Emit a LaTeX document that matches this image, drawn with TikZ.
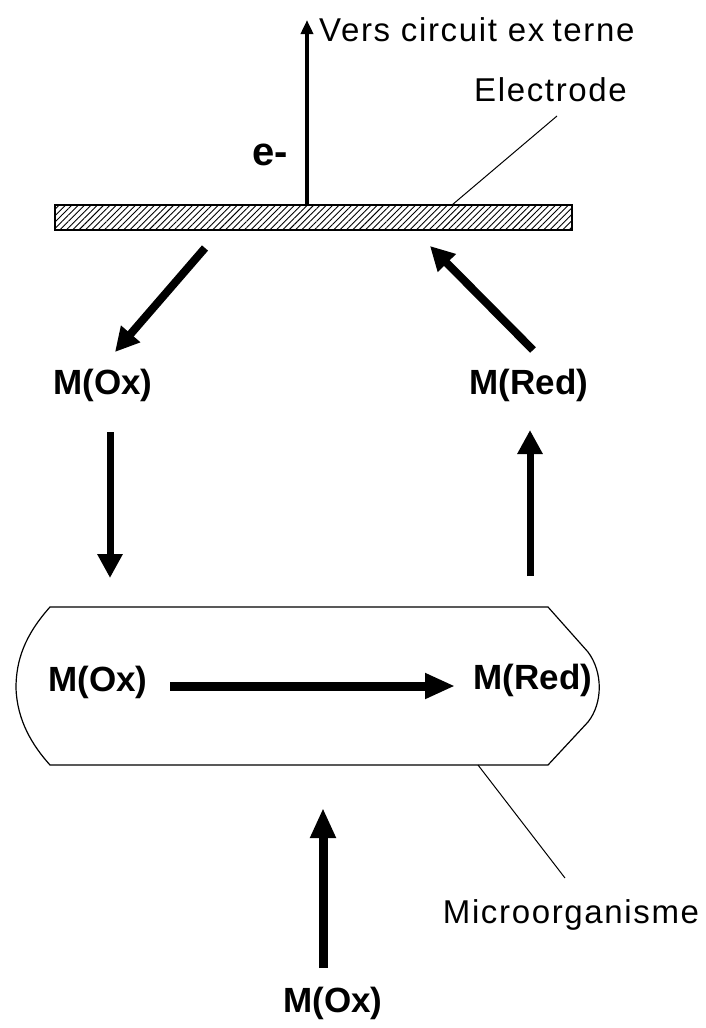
\documentclass[tikz,border=0pt]{standalone}
\usepackage{fontspec}
\setmainfont{Liberation Sans}
\newfontfamily\lightfont[LetterSpace=5]{Liberation Sans}
\usetikzlibrary{arrows.meta,patterns.meta}
\begin{document}
\begin{tikzpicture}[x=1pt,y=-1pt,
  lbl/.style={font=\fontsize{35}{40}\selectfont\bfseries, inner sep=0pt},
  note/.style={font=\fontsize{33}{38}\lightfont, inner sep=0pt},
  leader/.style={line width=1pt},
  fatarrow/.style={line width=8pt, -{Triangle[length=24pt,width=24pt]}},
  bigarrow/.style={line width=9pt, -{Triangle[length=30pt,width=24pt]}},
  slimarrow/.style={line width=4.5pt, -{Triangle[length=14pt,width=12pt]}}]
\useasboundingbox (0,0) rectangle (705,1028);

% electrode
\node[draw, line width=1.3pt, minimum width=517pt, minimum height=25pt,
  pattern={Lines[angle=45,distance=4.5pt,line width=0.9pt]}] (electrode) at (313.5,217.5) {};

\coordinate (ext) at (307,20);
\draw[slimarrow] (ext |- electrode.north) -- (ext);
\node[note, anchor=west] (vers) at (319,30) {Vers circuit ex\hspace{0.25em}terne};
\node[lbl, font=\fontsize{40}{44}\selectfont\bfseries] (eminus) at (270,155) {e-};

\node[note, anchor=west] (electrodelbl) at (474,90) {Electrode};
\coordinate (elA) at (557,116);
\coordinate (elB) at (452,205);
\draw[leader] (elA) -- (elB);

% upper labels
\node[lbl] (ox1) at (103,385) {M(Ox)};
\node[lbl] (red1) at (529,385) {M(Red)};

\coordinate (a1s) at (205,248);
\coordinate (a1e) at (115,352);
\draw[fatarrow] (a1s) -- (a1e);
\coordinate (a2s) at (533,350);
\coordinate (a2e) at (430,246);
\draw[fatarrow] (a2s) -- (a2e);

\coordinate (a3s) at (110,432);
\coordinate (a3e) at (110,578);
\draw[fatarrow, line width=7pt] (a3s) -- (a3e);
\coordinate (a4s) at (530,576);
\coordinate (a4e) at (530,430);
\draw[fatarrow, line width=7pt] (a4s) -- (a4e);

% microorganism
\draw[line width=1.2pt] (50,607) -- (548,607)
  -- (588,652) .. controls (603,672) and (603,703) .. (588,722)
  -- (548,765) -- (50,765)
  .. controls (32,745) and (17,720) .. (16,688)
  .. controls (16,660) and (25,635) .. (50,607) -- cycle;

\node[lbl] (ox2) at (98,682) {M(Ox)};
\node[lbl] (red2) at (533,680) {M(Red)};
\coordinate (a5s) at (170,686);
\coordinate (a5e) at (455,686);
\draw[bigarrow] (a5s) -- (a5e);

\node[note] (micro) at (571,915) {Microorganisme};
\coordinate (mA) at (478,765);
\coordinate (mB) at (565,878);
\draw[leader] (mA) -- (mB);

% bottom
\node[lbl] (ox3) at (333,1003) {M(Ox)};
\coordinate (a6s) at (323,968);
\coordinate (a6e) at (323,808);
\draw[bigarrow] (a6s) -- (a6e);
\end{tikzpicture}
\end{document}
